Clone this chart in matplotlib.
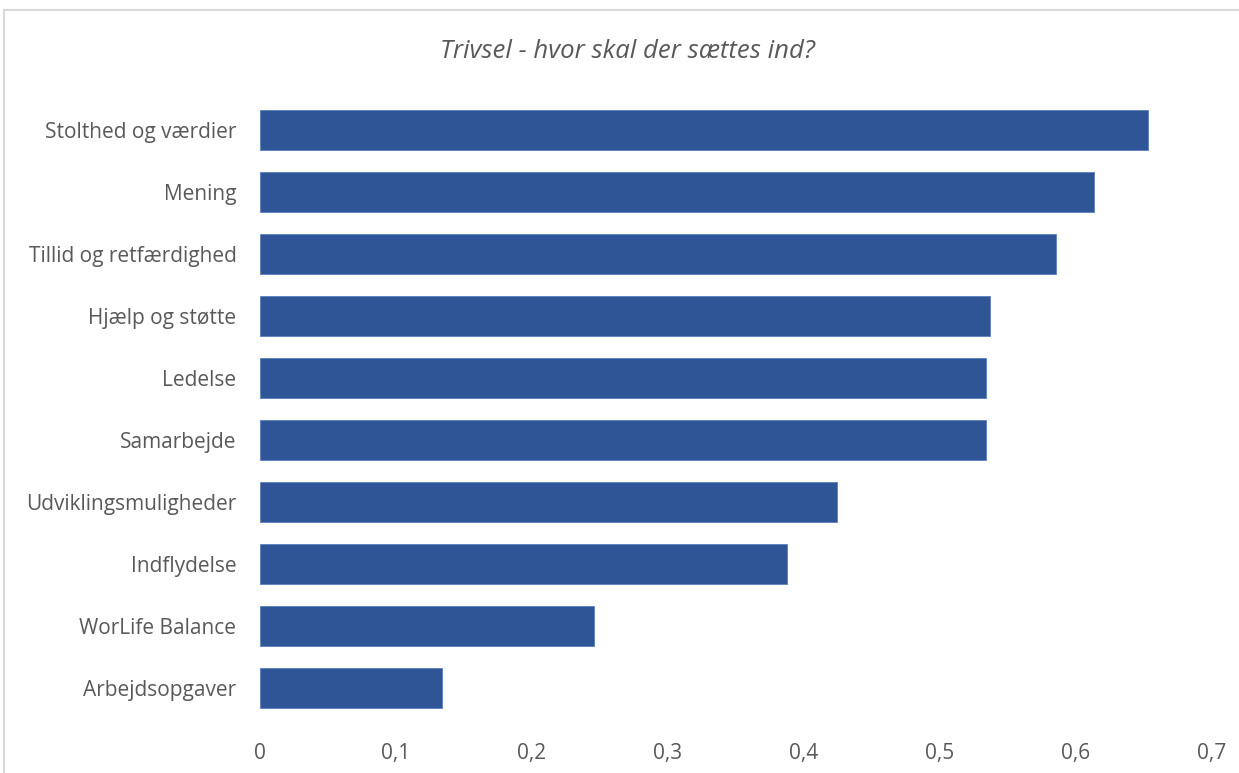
import matplotlib

matplotlib.use("Agg")
import matplotlib.pyplot as plt
from matplotlib.patches import Rectangle

categories = [
    "Stolthed og værdier",
    "Mening",
    "Tillid og retfærdighed",
    "Hjælp og støtte",
    "Ledelse",
    "Samarbejde",
    "Udviklingsmuligheder",
    "Indflydelse",
    "WorLife Balance",
    "Arbejdsopgaver",
]
values = [0.653, 0.613, 0.585, 0.537, 0.534, 0.534, 0.424, 0.3875, 0.2456, 0.134]
xticks = [0, 0.1, 0.2, 0.3, 0.4, 0.5, 0.6, 0.7]
xtick_labels = ["0", "0,1", "0,2", "0,3", "0,4", "0,5", "0,6", "0,7"]

plt.rcParams["font.family"] = ["Open Sans", "DejaVu Sans"]
text_color = "#595959"
bar_color = "#2F5597"

fig = plt.figure(figsize=(12.39, 7.73), dpi=100)
ax = fig.add_axes([260 / 1239, 1 - 719 / 773, 952 / 1239, 620 / 773])

ypos = list(range(len(categories)))
ax.barh(ypos, values, height=0.66, color=bar_color, edgecolor="#5b7fbf", linewidth=0.6)
ax.set_ylim(len(categories) - 0.5, -0.5)
ax.set_xlim(0, 0.7)
ax.set_yticks(ypos)
ax.set_yticklabels(categories, fontsize=15, color=text_color)
ax.set_xticks(xticks)
ax.set_xticklabels(xtick_labels, fontsize=15, color=text_color)
ax.tick_params(axis="both", length=0)
ax.tick_params(axis="y", pad=17)
ax.tick_params(axis="x", pad=17)
for s in ax.spines.values():
    s.set_visible(False)

fig.text(627 / 1239, 1 - 52 / 773, "Trivsel - hvor skal der sættes ind?",
         ha="center", va="center", fontsize=18.5, style="italic", color=text_color)

fig.patches.append(Rectangle((4 / 1239, -0.1), 1.2, 1 - 10 / 773 + 0.1,
                             transform=fig.transFigure, fill=False,
                             edgecolor="#d9d9d9", linewidth=1.5))

fig.savefig("out.png", dpi=100)
